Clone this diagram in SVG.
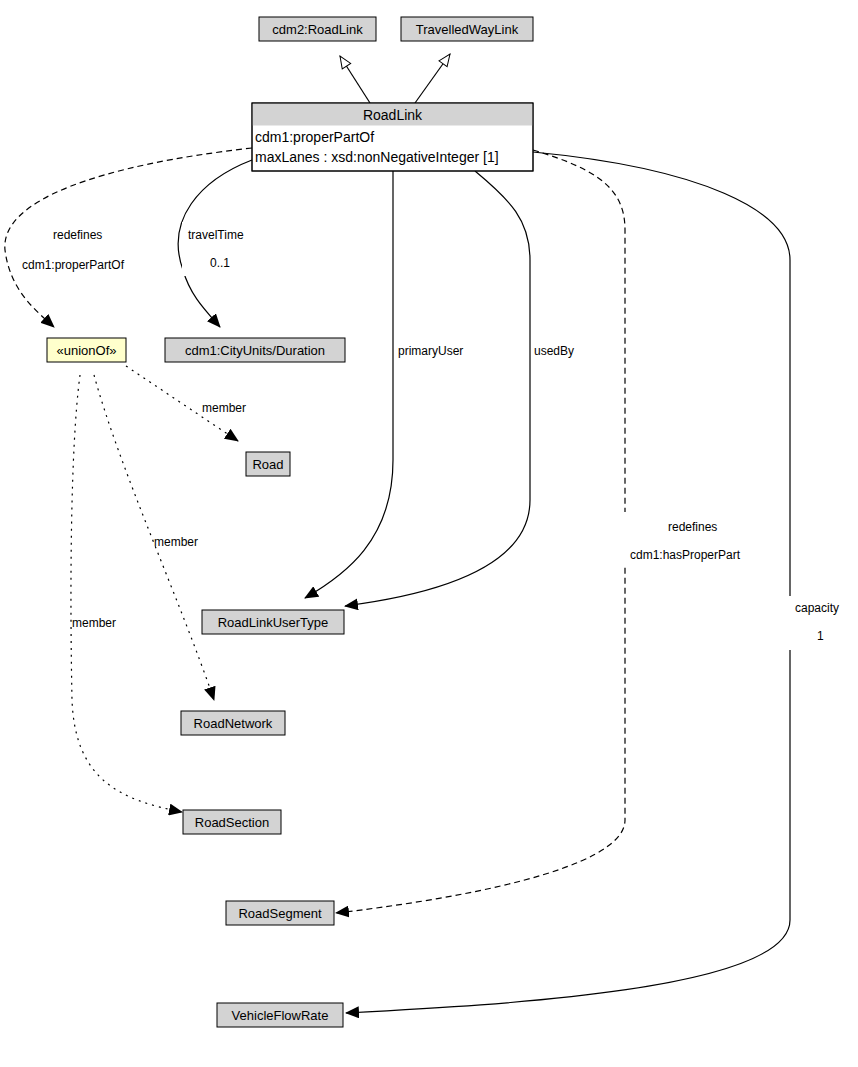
<svg xmlns="http://www.w3.org/2000/svg" width="858" height="1067" viewBox="0 0 858 1067">
<style>
text{font-family:"Liberation Sans",Arial,sans-serif;font-size:13px;fill:#000}
.lbl{font-size:12px}
.box{fill:#d3d3d3;stroke:#000;stroke-width:1}
.e{fill:none;stroke:#000;stroke-width:1.2}
.d{stroke-dasharray:6,4}
.o{stroke-dasharray:2,5}
</style>
<defs>
<marker id="f" markerWidth="14" markerHeight="12" refX="13" refY="6" orient="auto" markerUnits="userSpaceOnUse"><path d="M0,0 L14,6 L0,12 z" fill="#000"/></marker>
<marker id="h" markerWidth="14" markerHeight="12" refX="13" refY="6" orient="auto" markerUnits="userSpaceOnUse"><path d="M1,1 L13,6 L1,11 z" fill="#fff" stroke="#000"/></marker>
</defs>
<rect width="858" height="1067" fill="#fff"/>
<g id="connectors">
<path class="e" d="M370,103 L340,56" marker-end="url(#h)"/>
<path class="e" d="M415,103 L450,54" marker-end="url(#h)"/>
<path class="e d" d="M252,148 C100,165 0,200 5,250 C10,290 35,310 54,327" marker-end="url(#f)"/>
<path class="e" d="M252,160 C200,180 165,220 183,270 C190,295 205,310 220,327" marker-end="url(#f)"/>
<path class="e" d="M393,171 L393,460 C393,540 345,575 305,598" marker-end="url(#f)"/>
<path class="e" d="M475,171 C510,200 530,220 530,260 L530,500 C530,570 430,595 345,606" marker-end="url(#f)"/>
<path class="e d" d="M533,150 C600,170 625,190 625,230 L625,820 C625,870 450,900 336,913" marker-end="url(#f)"/>
<path class="e" d="M533,152 C700,168 790,210 790,260 L790,920 C790,990 500,1005 346,1013" marker-end="url(#f)"/>
<path class="e o" d="M126,366 L238,441" marker-end="url(#f)"/>
<path class="e o" d="M94,375 C120,470 180,600 214,700" marker-end="url(#f)"/>
<path class="e o" d="M80,375 C70,450 70,600 72,700 C75,780 120,800 182,812" marker-end="url(#f)"/>
<rect x="395" y="340" width="84" height="18" fill="#fff"/>
<rect x="531" y="340" width="50" height="18" fill="#fff"/>
<rect x="787" y="596" width="60" height="54" fill="#fff"/>
<rect x="622" y="512" width="150" height="54" fill="#fff"/>
<rect x="182" y="222" width="80" height="54" fill="#fff"/>
<text class="lbl" x="53" y="239">redefines</text>
<text class="lbl" x="22" y="269">cdm1:properPartOf</text>
<text class="lbl" x="188" y="239">travelTime</text>
<text class="lbl" x="210" y="267">0..1</text>
<text class="lbl" x="398" y="355">primaryUser</text>
<text class="lbl" x="534" y="355">usedBy</text>
<text class="lbl" x="668" y="531">redefines</text>
<text class="lbl" x="630" y="559">cdm1:hasProperPart</text>
<text class="lbl" x="795" y="612">capacity</text>
<text class="lbl" x="817" y="640">1</text>
<text class="lbl" x="202" y="412">member</text>
<text class="lbl" x="154" y="546">member</text>
<text class="lbl" x="72" y="627">member</text>
</g>
<g id="cdm2RoadLink"><rect class="box" x="259" y="17" width="117" height="24"/><text x="317.5" y="34" text-anchor="middle">cdm2:RoadLink</text></g>
<g id="TravelledWayLink"><rect class="box" x="401" y="17" width="132" height="24"/><text x="467" y="34" text-anchor="middle">TravelledWayLink</text></g>
<g id="RoadLink"><rect x="252" y="103" width="281" height="68" fill="#fff" stroke="#000"/><rect x="252.5" y="103.5" width="280" height="22" fill="#d3d3d3"/><rect x="252" y="103" width="281" height="68" fill="none" stroke="#000"/><text x="392.5" y="120" text-anchor="middle" style="font-size:14px">RoadLink</text><text x="255" y="142" style="font-size:14px">cdm1:properPartOf</text><text x="255" y="162" style="font-size:14px">maxLanes : xsd:nonNegativeInteger [1]</text></g>
<g id="unionOf"><rect x="47" y="338" width="79" height="24" fill="#ffffcc" stroke="#000"/><text x="86.5" y="355" text-anchor="middle">«unionOf»</text></g>
<g id="Duration"><rect class="box" x="165" y="338" width="180" height="24"/><text x="255" y="355" text-anchor="middle">cdm1:CityUnits/Duration</text></g>
<g id="Road"><rect class="box" x="246" y="452" width="44" height="24"/><text x="268" y="469" text-anchor="middle">Road</text></g>
<g id="RoadLinkUserType"><rect class="box" x="202" y="610" width="142" height="24"/><text x="273" y="627" text-anchor="middle">RoadLinkUserType</text></g>
<g id="RoadNetwork"><rect class="box" x="181" y="711" width="104" height="24"/><text x="233" y="728" text-anchor="middle">RoadNetwork</text></g>
<g id="RoadSection"><rect class="box" x="183" y="810" width="98" height="24"/><text x="232" y="827" text-anchor="middle">RoadSection</text></g>
<g id="RoadSegment"><rect class="box" x="226" y="901" width="108" height="24"/><text x="280" y="918" text-anchor="middle">RoadSegment</text></g>
<g id="VehicleFlowRate"><rect class="box" x="217" y="1003" width="126" height="24"/><text x="280" y="1020" text-anchor="middle">VehicleFlowRate</text></g>
</svg>
